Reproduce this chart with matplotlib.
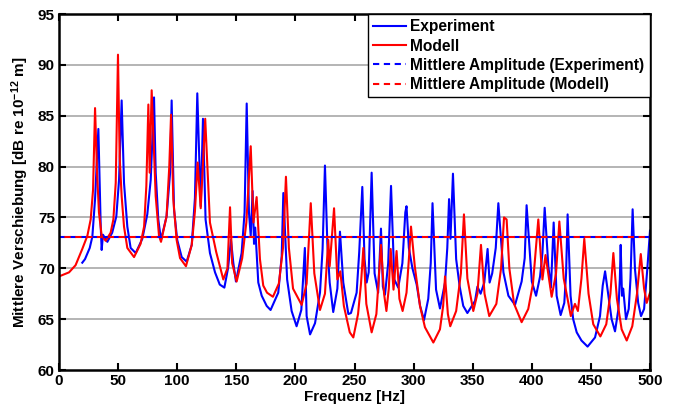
import matplotlib
matplotlib.use("Agg")
import matplotlib.pyplot as plt
from matplotlib.lines import Line2D

plt.rcParams['font.family'] = ['Liberation Sans', 'DejaVu Sans']
plt.rcParams['font.weight'] = 'bold'
plt.rcParams['mathtext.fontset'] = 'custom'
plt.rcParams['mathtext.rm'] = 'Liberation Sans:bold'
plt.rcParams['mathtext.it'] = 'Liberation Sans:bold'
plt.rcParams['mathtext.bf'] = 'Liberation Sans:bold'
plt.rcParams['mathtext.default'] = 'rm'

# Modell (red)
mod_f = [0, 8.5, 14, 19.7, 24, 26.8, 28.8, 30.5, 32.2, 33.8, 36.1, 39.5, 43.7, 46, 48, 49.9, 51.3, 53, 55, 57.8,
         63.5, 69, 72, 73.9, 75.6, 76.7, 78.4, 81.8, 84.6, 86.3, 91, 93.3, 94.8, 96.7, 99.5, 102.4, 107.4, 112.3,
         115, 117.3, 119.9, 123.7, 127.7, 133, 139, 142.5, 144.7, 146.5, 150.3, 155, 158.5, 162.2, 164.5, 167.2,
         170, 172.8, 176, 181, 186, 189.5, 192, 194.5, 198, 205.3, 209.5, 213, 216, 220.8, 225, 227.8, 229, 232.7,
         235.5, 238, 241, 246, 249, 253, 255.5, 257.5, 260, 264.5, 268.5, 272.4, 275, 277, 279, 280.6, 283, 285.6,
         288, 290.7, 294, 296, 297.8, 301, 305.4, 309.6, 316.7, 322.3, 325, 326.6, 329, 331, 336, 340, 342.6,
         345.5, 350.5, 354, 357, 360, 364, 370, 374, 376.5, 378.7, 381, 385, 391.4, 397, 401, 405.5, 409, 411.6,
         416.8, 420.5, 423.3, 427, 433, 436.5, 439, 442, 444.4, 448, 452, 458, 463, 466.5, 469, 472, 476, 480.3,
         485, 489, 492.2, 495, 497.2, 500]
mod_db = [69.2, 69.6, 70.3, 71.9, 73.2, 74.8, 77.7, 85.75, 79.4, 75.5, 73.2, 72.7, 73.5, 74.8, 78.4, 91.0, 81.0, 77.1,
          74.1, 72.0, 71.1, 72.4, 74.1, 78.1, 86.1, 79.4, 87.5, 77.1, 73.2, 72.6, 75.1, 80.0, 85.1, 76.8, 72.8, 71.0,
          70.2, 72.3, 75.6, 80.4, 75.9, 84.7, 74.5, 71.6, 68.9, 70.0, 76.0, 70.5, 68.7, 71.0, 74.5, 82.0, 74.5, 77.0,
          70.9, 68.3, 67.6, 67.2, 68.5, 72.0, 79.0, 72.0, 68.0, 66.4, 68.5, 76.4, 69.5, 65.9, 67.5, 72.8, 70.2, 75.9,
          68.9, 69.7, 66.3, 63.7, 63.2, 65.5, 68.5, 72.0, 66.5, 63.7, 65.5, 72.3, 67.5, 65.8, 68.0, 71.9, 67.9, 71.7,
          67.0, 65.8, 67.6, 70.9, 74.1, 70.2, 66.3, 64.2, 62.7, 64.0, 66.3, 69.2, 65.5, 64.3, 65.8, 69.5, 75.3,
          69.0, 65.8, 67.5, 72.3, 67.5, 65.3, 66.5, 70.0, 75.0, 74.8, 70.0, 66.5, 64.7, 66.0, 68.5, 74.8, 68.9, 71.3,
          67.2, 69.5, 74.6, 69.0, 65.3, 66.5, 65.8, 69.0, 72.9, 67.5, 64.5, 63.3, 64.5, 67.5, 71.5, 67.0, 64.0, 62.9,
          64.3, 67.5, 71.4, 68.0, 66.6, 67.6]

# Experiment (blue)
exp_f = [19.7, 22, 26, 28.2, 30.5, 33.3, 35.3, 36.1, 37.2, 40.9, 45, 48.5, 50.8, 53, 55, 57.8, 60.6, 64.9, 70.5,
         74.7, 77.6, 80.4, 81.8, 84, 86.3, 91, 94, 95.3, 97.3, 100, 103.8, 108, 112.3, 115, 117, 119.9, 121.8, 124,
         127.7, 132, 136, 139.9, 143, 145.5, 147.5, 149.7, 154.5, 157, 158.8, 160.7, 162.2, 163.8, 165, 166, 168.6,
         171.5, 175.7, 179, 185.5, 188.4, 189.8, 193, 196.8, 201, 205, 208, 209.5, 212.4, 216.6, 220.8, 223, 225,
         227, 229, 232, 235.5, 237.7, 240.5, 244.8, 247, 251.8, 254, 256.6, 258.5, 260.3, 262, 264.5, 267, 270,
         272.4, 274, 275.8, 278.5, 280.9, 283.7, 287, 290.5, 293, 294, 296, 299, 302.6, 305.5, 308.8, 312.4, 314.5,
         316, 319, 322.3, 326.6, 328.5, 330, 331.2, 333.3, 336, 339, 342, 345.5, 352, 354, 356.7, 359.8, 362.6,
         364.3, 366.5, 369.5, 371.7, 376, 380.2, 385.8, 391.4, 394, 395.6, 400, 403.6, 407, 409, 410.9, 414, 416.2,
         418.5, 421, 424.4, 427.5, 429, 430.3, 432.8, 435, 438, 442, 447.2, 453.5, 457.7, 460, 462, 464.8, 467.5,
         470.4, 473.3, 474.5, 475.2, 476.3, 477.3, 479.7, 482, 483.5, 485.3, 487.3, 490, 492.4, 495, 497.7, 500]
exp_db = [70.55, 70.9, 72.0, 73.1, 76.8, 83.7, 74.1, 71.8, 73.3, 72.6, 73.5, 75.1, 78.7, 86.5, 78.4, 74.1, 72.0, 71.5,
          72.9, 75.3, 78.7, 86.8, 79.4, 74.8, 72.8, 75.1, 79.4, 86.5, 75.8, 72.8, 71.1, 70.65, 72.3, 76.9, 87.2, 76.1,
          84.7, 74.8, 71.5, 69.6, 68.4, 68.1, 70.0, 72.8, 70.5, 68.7, 71.5, 75.5, 86.2, 75.5, 73.2, 77.6, 72.4, 74.0,
          68.6, 67.3, 66.3, 65.9, 67.6, 71.2, 77.4, 68.9, 65.8, 64.3, 65.9, 72.0, 65.3, 63.5, 64.6, 67.6, 71.9, 80.1,
          72.5, 68.6, 65.7, 68.0, 73.6, 68.6, 65.5, 65.6, 67.6, 71.6, 78.0, 70.9, 68.6, 69.6, 79.4, 69.5, 67.6,
          73.9, 68.2, 67.4, 70.5, 78.1, 68.9, 68.1, 70.5, 75.5, 76.1, 72.0, 70.0, 68.4, 66.3, 64.9, 67.0, 70.5,
          76.4, 67.9, 66.05, 68.6, 72.0, 76.8, 72.9, 79.3, 70.9, 68.2, 66.3, 65.6, 66.8, 68.2, 67.5, 68.6, 71.9,
          68.6, 69.5, 72.0, 76.4, 69.6, 67.3, 66.4, 68.7, 71.0, 76.2, 68.7, 67.3, 69.2, 71.5, 75.95, 70.2, 68.1,
          74.5, 67.3, 65.4, 66.6, 69.5, 75.3, 67.3, 65.0, 63.7, 62.9, 62.3, 63.2, 65.3, 68.3, 69.7, 67.3, 65.0,
          63.8, 66.0, 69.0, 72.3, 67.3, 68.0, 65.0, 66.0, 69.0, 75.8, 69.9, 66.6, 65.3, 66.0, 69.9, 73.7]

mean_exp = 73.1
mean_mod = 73.1

x_ticks = [0, 50, 100, 150, 200, 250, 300, 350, 400, 450, 500]
y_ticks = [60, 65, 70, 75, 80, 85, 90, 95]
labels = ['Experiment', 'Modell', 'Mittlere Amplitude (Experiment)', 'Mittlere Amplitude (Modell)']

FS = 11
LFS = 11.2
DASH = (3.0, 2.2)

fig = plt.figure(figsize=(6.74, 4.12), dpi=100)
ax = fig.add_axes([59/674, 1-370/412, 591/674, 356/412])

for yv in y_ticks[1:-1]:
    ax.axhline(yv, color='#b4b4b4', lw=1.4, zorder=0)

ax.plot(exp_f, exp_db, color='#0000ff', lw=1.5)
ax.plot(mod_f, mod_db, color='#ff0000', lw=1.5)
ax.plot([0, 500], [mean_exp, mean_exp], color='#0000ff', lw=1.5, ls=(0, DASH))
ax.plot([0, 500], [mean_mod, mean_mod], color='#ff0000', lw=1.5, ls=(2.6, DASH))

ax.set_xlim(0, 500)
ax.set_ylim(60, 95)
ax.set_xticks(x_ticks)
ax.set_yticks(y_ticks)
ax.tick_params(direction='in', length=5, width=1.5, top=True, right=True, labelsize=FS, pad=3)
for lab in ax.get_xticklabels() + ax.get_yticklabels():
    lab.set_fontweight('bold')
for s in ax.spines.values():
    s.set_linewidth(1.8)

ax.set_xlabel('Frequenz [Hz]', fontsize=FS, fontweight='bold', labelpad=1)
ax.set_ylabel('Mittlere Verschiebung [dB re 10$^{-12}$ m]', fontsize=FS, fontweight='bold', labelpad=5)

handles = [Line2D([], [], color='#0000ff', lw=1.5),
           Line2D([], [], color='#ff0000', lw=1.5),
           Line2D([], [], color='#0000ff', lw=1.5, ls=(0, DASH)),
           Line2D([], [], color='#ff0000', lw=1.5, ls=(0, DASH))]
leg = ax.legend(handles, labels, loc='upper right', borderaxespad=0, fancybox=False, framealpha=1,
                edgecolor='black', prop={'size': LFS, 'weight': 'bold'}, handlelength=2.1,
                handletextpad=0.3, labelspacing=0.27, borderpad=0.35)
leg.get_frame().set_linewidth(1.0)

fig.savefig('out.png', dpi=100)
